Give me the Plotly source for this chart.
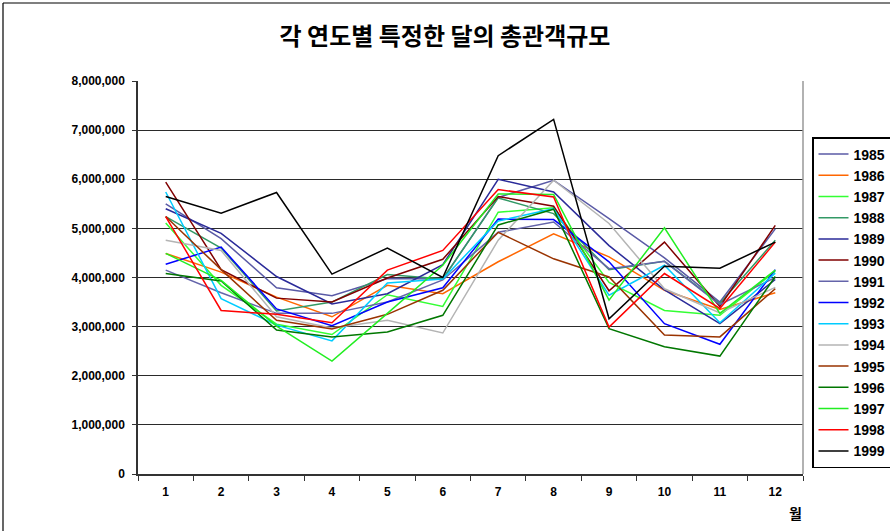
import plotly.graph_objects as go

months = [str(m) for m in range(1, 13)]
years = ["1985", "1986", "1987", "1988", "1989", "1990", "1991", "1992",
         "1993", "1994", "1995", "1996", "1997", "1998", "1999"]

v1985 = [5.50, 4.79, 3.79, 3.63, 3.98, 3.97, 5.63, 5.98, 5.20, 4.40, 3.50, 4.99]
v1986 = [4.49, 4.11, 3.60, 3.20, 3.84, 3.67, 4.32, 4.89, 4.42, 3.74, 3.35, 3.69]
v1987 = [5.11, 3.84, 3.05, 2.84, 3.65, 3.41, 5.33, 5.42, 3.90, 3.33, 3.23, 4.13]
v1988 = [5.24, 4.60, 3.32, 3.50, 4.06, 3.97, 5.62, 5.30, 4.16, 4.33, 3.47, 4.76]
v1989 = [5.40, 4.90, 4.02, 3.46, 3.67, 4.26, 6.00, 5.74, 4.65, 3.75, 3.06, 3.96]
v1990 = [5.94, 4.16, 3.58, 3.50, 3.99, 4.37, 5.65, 5.45, 3.73, 4.72, 3.41, 5.06]
v1991 = [4.15, 3.69, 3.27, 3.27, 3.50, 3.95, 4.92, 5.13, 4.18, 4.33, 3.45, 4.00]
v1992 = [4.27, 4.62, 3.36, 3.02, 3.50, 3.79, 5.19, 5.18, 4.32, 3.06, 2.64, 4.16]
v1993 = [5.74, 3.57, 3.03, 2.71, 3.89, 3.97, 5.15, 5.40, 3.64, 4.25, 3.08, 4.09]
v1994 = [4.76, 4.55, 3.20, 2.97, 3.13, 2.87, 4.76, 5.98, 5.10, 3.77, 3.28, 3.80]
v1995 = [5.24, 4.16, 3.13, 2.95, 3.25, 3.74, 4.92, 4.38, 4.01, 2.83, 2.79, 3.77]
v1996 = [4.08, 3.93, 2.93, 2.79, 2.89, 3.23, 5.07, 5.39, 2.96, 2.59, 2.40, 4.02]
v1997 = [4.49, 3.94, 3.01, 2.30, 3.27, 4.25, 5.70, 5.69, 3.54, 5.01, 3.27, 4.15]
v1998 = [5.24, 3.33, 3.25, 3.08, 4.15, 4.55, 5.79, 5.64, 2.99, 4.08, 3.37, 4.72]
v1999 = [5.65, 5.31, 5.73, 4.07, 4.60, 4.00, 6.48, 7.22, 3.16, 4.23, 4.19, 4.72]

series = [v1985, v1986, v1987, v1988, v1989, v1990, v1991, v1992,
          v1993, v1994, v1995, v1996, v1997, v1998, v1999]
colors = ["#5a5aa6", "#ff6600", "#33ff33", "#339966", "#2a2a99", "#800000",
          "#6464aa", "#0000ff", "#00ccff", "#b4b4b4", "#993300", "#007700",
          "#22ee22", "#ff0000", "#000000"]

fig = go.Figure()
for name, vals, col in zip(years, series, colors):
    fig.add_trace(go.Scatter(
        x=months, y=[v * 1_000_000 for v in vals], name=name, mode="lines",
        line=dict(color=col, width=1.5)))

PL, PR, PT, PB = 138, 803, 81, 474
W, H = 890, 531

def px_x(p):
    return (p - PL) / (PR - PL)

def px_y(p):
    return (PB - p) / (PB - PT)

fig.update_layout(
    width=W, height=H,
    margin=dict(l=PL, r=W - PR, t=PT, b=H - PB, pad=0, autoexpand=False),
    paper_bgcolor="white", plot_bgcolor="white",
    font=dict(family="Liberation Sans, Arial, sans-serif", color="black"),
    title=dict(text="<b>각 연도별 특정한 달의 총관객규모</b>",
               font=dict(family="Noto Sans CJK KR", size=24, color="black", weight="bold"),
               x=0.5, xanchor="center", y=1 - 37 / H, yanchor="middle"),
    showlegend=True,
    legend=dict(x=px_x(812), y=px_y(137), xanchor="left", yanchor="top",
                bordercolor="black", borderwidth=1.5, bgcolor="white",
                font=dict(size=14, family="Liberation Sans, Arial", color="black",
                          weight="bold"),
                tracegroupgap=0, itemwidth=30),
)
fig.update_xaxes(type="category", range=[-0.5, 11.5], tickson="boundaries",
                 ticks="outside", ticklen=5, automargin=False,
                 tickcolor="#333", showgrid=False, showline=True, linecolor="#333",
                 linewidth=1.5, mirror=False, ticklabelstandoff=6,
                 tickfont=dict(size=12, family="Liberation Sans, Arial", weight="bold"))
fig.update_yaxes(range=[0, 8_000_000], dtick=1_000_000, tickformat=",d",
                 ticks="outside", ticklen=4, tickcolor="#333", automargin=False,
                 showgrid=True, gridcolor="#2a2a2a", gridwidth=1.4,
                 showline=True, linecolor="#333", linewidth=1.5, zeroline=False,
                 ticklabelstandoff=5,
                 tickfont=dict(size=12, family="Liberation Sans, Arial", weight="bold"))

# right border of plot area (gray)
fig.add_shape(type="line", xref="paper", yref="paper", x0=1, x1=1, y0=0, y1=1,
              line=dict(color="#999", width=1.5))
# outer chart border (top and left)
fig.add_shape(type="line", xref="paper", yref="paper", x0=px_x(3), x1=px_x(900),
              y0=px_y(3), y1=px_y(3), line=dict(color="black", width=1.2))
fig.add_shape(type="line", xref="paper", yref="paper", x0=px_x(3), x1=px_x(3),
              y0=px_y(3), y1=px_y(540), line=dict(color="black", width=1.2))

fig.add_annotation(text="<b>월</b>", xref="paper", yref="paper",
                   x=px_x(795), y=px_y(513), xanchor="center", yanchor="middle",
                   showarrow=False,
                   font=dict(size=14, family="Noto Sans CJK KR", color="black"))

fig.write_html("out.html", config={"displayModeBar": False},
               post_script="document.body.style.margin='0';")
